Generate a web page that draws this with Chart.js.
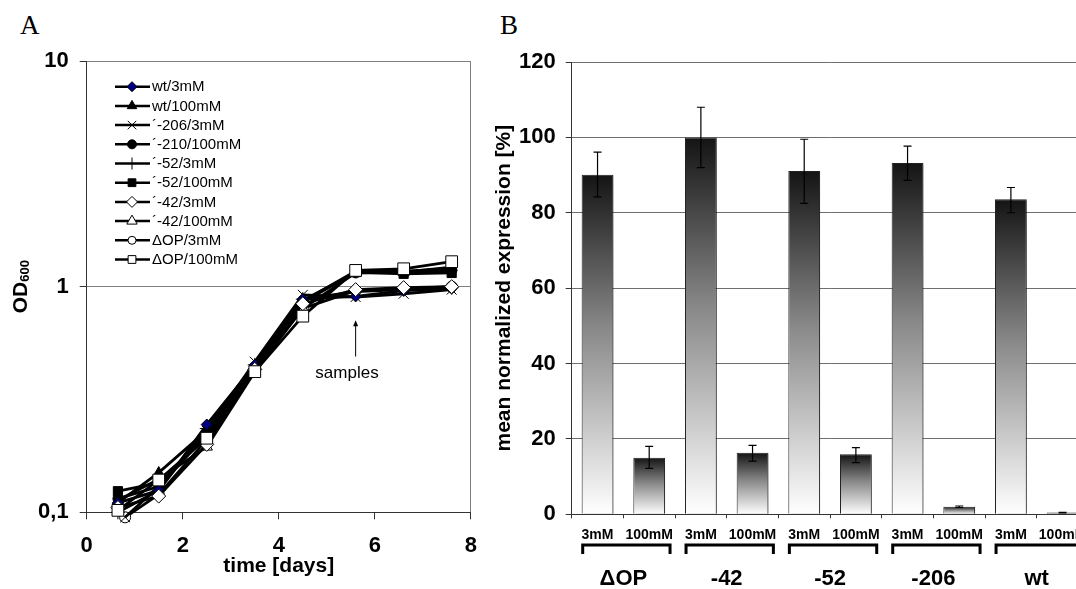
<!DOCTYPE html>
<html>
<head>
<meta charset="utf-8">
<script src="https://cdn.jsdelivr.net/npm/chart.js@4.4.1/dist/chart.umd.min.js"></script>
<style>
  html, body { margin: 0; padding: 0; background: #fff; overflow: hidden; width: 1076px; height: 589px; }
  #wrap { position: relative; width: 1076px; height: 589px; overflow: hidden; }
  canvas { position: absolute; top: 0; }
  #cA { left: 0; }
  #cB { left: 480px; }
  .panel { position: absolute; font-family: "Liberation Serif", "Times New Roman", serif; font-size: 27px; color: #000; }
</style>
</head>
<body>
<div id="wrap">
  <div class="panel" style="left:20px; top:10px;">A</div>
  <div class="panel" style="left:500px; top:10px;">B</div>
  <canvas id="cA" width="490" height="589"></canvas>
  <canvas id="cB" width="620" height="589"></canvas>
</div>
<script>
// ---------- DADOS: painel A (crescimento, OD600) ----------
const days = [0.65, 1.5, 2.5, 3.5, 4.5, 5.6, 6.6, 7.6];
const daysLate = [0.8, 1.5, 2.5, 3.5, 4.5, 5.6, 6.6, 7.6];

const seriesNames = ["wt/3mM", "wt/100mM", "´-206/3mM", "´-210/100mM", "´-52/3mM",
  "´-52/100mM", "´-42/3mM", "´-42/100mM", "ΔOP/3mM", "ΔOP/100mM"];

const wt3 = [0.11, 0.125, 0.245, 0.45, 0.88, 0.905, 0.96, 0.98];
const wt100 = [0.11, 0.15, 0.23, 0.44, 0.86, 1.17, 1.17, 1.2];
const m206_3 = [0.095, 0.13, 0.23, 0.465, 0.92, 0.9, 0.93, 0.97];
const m210_100 = [0.115, 0.13, 0.22, 0.44, 0.87, 1.15, 1.15, 1.18];
const m52_3 = [0.1, 0.125, 0.235, 0.45, 0.88, 0.95, 0.97, 0.99];
const m52_100 = [0.124, 0.135, 0.22, 0.43, 0.85, 1.16, 1.14, 1.15];
const m42_3 = [0.105, 0.118, 0.2, 0.43, 0.84, 0.97, 0.99, 1.0];
const m42_100 = [0.113, 0.14, 0.195, 0.42, 0.8, 1.15, 1.16, 1.22];
const dop3 = [0.095, 0.12, 0.21, 0.43, 0.8, 0.96, 0.98, 1.0];
const dop100 = [0.102, 0.139, 0.213, 0.42, 0.74, 1.18, 1.2, 1.29];

const seriesValues = [wt3, wt100, m206_3, m210_100, m52_3, m52_100, m42_3, m42_100, dop3, dop100];
const seriesDays = [days, days, daysLate, days, days, days, days, days, daysLate, days];

const xTicksA = [0, 2, 4, 6, 8];
const yTicksA = [0.1, 1, 10];
const yTickLabelsA = ["0,1", "1", "10"];

// seta "samples"
const sampleDay = 5.6;
const sampleArrow = [0.49, 0.71];
const sampleText = { x: 5.42, y: 0.415, text: "samples" };

// ---------- DADOS: painel B (expressão) ----------
const categories = ["3mM", "100mM", "3mM", "100mM", "3mM", "100mM", "3mM", "100mM", "3mM", "100mM"];
const groups = ["ΔOP", "-42", "-52", "-206", "wt"];
const expression = [90.1, 15.0, 100, 16.3, 91.1, 15.9, 93.2, 2.0, 83.6, 0.45];
const errHigh = [96.1, 18.0, 108, 18.3, 99.5, 17.7, 97.7, 2.2, 86.7, 0.5];
const errLow = [84.2, 12.2, 92, 14.1, 82.5, 13.7, 88.6, 1.8, 80.0, 0.4];

// ---------- ESTILOS ----------
const FONT = '"Liberation Sans", Arial, Helvetica, sans-serif';
Chart.defaults.font.family = FONT;
Chart.defaults.color = "#000";

// estilo de marcador: [pointStyle, preenchimento, raio no gráfico, raio na legenda, ordem]
const markers = [
  ["rectRot", "#000080", 5.5, 5, 0],
  ["triangle", "#000", 6, 5.5, 0],
  ["crossRot", "#000", 7, 6, 0],
  ["circle", "#000", 5, 4.5, 0],
  ["cross", "#000", 7, 6, 0],
  ["rect", "#000", 6.5, 5.5, 0],
  ["rectRot", "#fff", 7, 5.5, -1],
  ["triangle", "#fff", 6.5, 6, 0],
  ["circle", "#fff", 5.5, 4, 0],
  ["rect", "#fff", 8.3, 5.5, -2]
];

function marcador(ctx, style, fill, r, x, y) {
  ctx.save();
  ctx.fillStyle = fill;
  ctx.strokeStyle = "#000";
  ctx.lineWidth = 1;
  if (Chart.helpers && Chart.helpers.drawPoint) {
    Chart.helpers.drawPoint(ctx, { pointStyle: style, radius: r, rotation: 0, borderWidth: 1 }, x, y);
  } else {
    ctx.fillRect(x - r * 0.7, y - r * 0.7, r * 1.4, r * 1.4);
    ctx.strokeRect(x - r * 0.7, y - r * 0.7, r * 1.4, r * 1.4);
  }
  ctx.restore();
}

// ---------- PLUGINS painel A ----------
const legendaA = {
  id: "legendaA",
  afterDraw(chart) {
    const ctx = chart.ctx;
    ctx.save();
    ctx.font = "15px " + FONT;
    ctx.textBaseline = "middle";
    ctx.textAlign = "left";
    seriesNames.forEach((nome, i) => {
      const y = 86.7 + i * 19.2;
      ctx.strokeStyle = "#000";
      ctx.lineWidth = 2.5;
      ctx.beginPath();
      ctx.moveTo(115, y);
      ctx.lineTo(150, y);
      ctx.stroke();
      const m = markers[i];
      marcador(ctx, m[0], m[1], m[3], 132, y);
      ctx.fillStyle = "#000";
      ctx.fillText(nome, 152, y + 0.5);
    });
    ctx.restore();
  }
};

const extrasA = {
  id: "extrasA",
  afterDraw(chart) {
    const ctx = chart.ctx;
    const xs = chart.scales.x, ys = chart.scales.y;
    ctx.save();
    // título do eixo y: OD600
    ctx.translate(21, ys.getPixelForValue(1));
    ctx.rotate(-Math.PI / 2);
    ctx.fillStyle = "#000";
    ctx.textBaseline = "middle";
    ctx.textAlign = "left";
    ctx.font = "bold 21px " + FONT;
    const w1 = ctx.measureText("OD").width;
    ctx.font = "bold 13px " + FONT;
    const w2 = ctx.measureText("600").width;
    const x0 = -(w1 + w2) / 2;
    ctx.font = "bold 21px " + FONT;
    ctx.fillText("OD", x0, 0);
    ctx.font = "bold 13px " + FONT;
    ctx.fillText("600", x0 + w1, 4);
    ctx.restore();

    // seta e texto "samples"
    ctx.save();
    const ax = xs.getPixelForValue(sampleDay);
    const y1 = ys.getPixelForValue(sampleArrow[0]);
    const y2 = ys.getPixelForValue(sampleArrow[1]);
    ctx.strokeStyle = "#000";
    ctx.fillStyle = "#000";
    ctx.lineWidth = 1;
    ctx.beginPath();
    ctx.moveTo(ax, y1);
    ctx.lineTo(ax, y2 + 4);
    ctx.stroke();
    ctx.beginPath();
    ctx.moveTo(ax, y2);
    ctx.lineTo(ax - 2.5, y2 + 6);
    ctx.lineTo(ax + 2.5, y2 + 6);
    ctx.closePath();
    ctx.fill();
    ctx.font = "17px " + FONT;
    ctx.textAlign = "center";
    ctx.textBaseline = "middle";
    ctx.fillText(sampleText.text, xs.getPixelForValue(sampleText.x), ys.getPixelForValue(sampleText.y));
    ctx.restore();
  }
};

// ---------- GRÁFICO A ----------
const datasetsA = seriesNames.map((nome, i) => {
  const m = markers[i];
  return {
    label: nome,
    data: seriesValues[i].map((v, k) => ({ x: seriesDays[i][k], y: v })),
    borderColor: "#000",
    borderWidth: 2.8,
    tension: 0,
    fill: false,
    clip: false,
    order: m[4],
    pointStyle: m[0],
    pointRadius: m[2],
    pointBackgroundColor: m[1],
    pointBorderColor: "#000",
    pointBorderWidth: 1
  };
});

new Chart(document.getElementById("cA"), {
  type: "line",
  data: { datasets: datasetsA },
  options: {
    responsive: false,
    animation: false,
    devicePixelRatio: 1,
    layout: { padding: { left: 0, right: 12.3, top: 61, bottom: 0 } },
    plugins: { legend: { display: false }, tooltip: { enabled: false } },
    scales: {
      x: {
        type: "linear",
        min: 0,
        max: 8,
        afterBuildTicks: s => { s.ticks = xTicksA.map(v => ({ value: v })); },
        afterFit: s => { s.height = 76.7; },
        ticks: { font: { size: 22, weight: "bold" }, color: "#000", padding: 13 },
        grid: {
          color: c => (c.tick && c.tick.value === 8 ? "#808080" : "rgba(0,0,0,0)"),
          tickColor: "#333",
          tickLength: 7,
          lineWidth: 1
        },
        border: { color: "#333", width: 1 },
        title: {
          display: true,
          text: "time [days]",
          font: { size: 21, weight: "bold" },
          color: "#000",
          padding: { top: 0, bottom: 10 }
        }
      },
      y: {
        type: "logarithmic",
        min: 0.1,
        max: 10,
        afterBuildTicks: s => { s.ticks = yTicksA.map(v => ({ value: v })); },
        afterFit: s => { s.width = 86.7; },
        ticks: {
          font: { size: 22, weight: "bold" },
          color: "#000",
          padding: 11,
          callback: (v, i) => yTickLabelsA[i]
        },
        grid: {
          color: c => (c.tick && c.tick.value === 0.1 ? "rgba(0,0,0,0)" : "#808080"),
          tickColor: "#333",
          tickLength: 7,
          lineWidth: 1
        },
        border: { color: "#333", width: 1 }
      }
    }
  },
  plugins: [legendaA, extrasA]
});

// ---------- PLUGINS painel B ----------
const sombraB = {
  id: "sombraB",
  beforeDatasetsDraw(chart) {
    const ctx = chart.ctx;
    ctx.save();
    ctx.shadowColor = "rgba(0,0,0,0.28)";
    ctx.shadowOffsetX = 2.5;
    ctx.shadowOffsetY = 1;
    ctx.shadowBlur = 0;
  },
  afterDatasetsDraw(chart) {
    chart.ctx.restore();
  }
};

const barrasErro = {
  id: "barrasErro",
  afterDatasetsDraw(chart) {
    const ctx = chart.ctx;
    const ys = chart.scales.y;
    const meta = chart.getDatasetMeta(0);
    ctx.save();
    ctx.strokeStyle = "#000";
    ctx.lineWidth = 1.2;
    meta.data.forEach((bar, i) => {
      const x = bar.x;
      const yh = ys.getPixelForValue(errHigh[i]);
      const yl = ys.getPixelForValue(errLow[i]);
      ctx.beginPath();
      ctx.moveTo(x, yh); ctx.lineTo(x, yl);
      ctx.moveTo(x - 4, yh); ctx.lineTo(x + 4, yh);
      ctx.moveTo(x - 4, yl); ctx.lineTo(x + 4, yl);
      ctx.stroke();
    });
    ctx.restore();
  }
};

const gruposB = {
  id: "gruposB",
  afterDraw(chart) {
    const ctx = chart.ctx;
    const xs = chart.scales.x;
    const catW = xs.getPixelForValue(1) - xs.getPixelForValue(0);
    ctx.save();
    ctx.strokeStyle = "#000";
    ctx.fillStyle = "#000";
    ctx.lineWidth = 3;
    ctx.lineCap = "butt";
    ctx.font = "bold 22px " + FONT;
    ctx.textAlign = "center";
    ctx.textBaseline = "middle";
    groups.forEach((g, k) => {
      const left = xs.getPixelForValue(2 * k) - catW / 2 + 11;
      const right = xs.getPixelForValue(2 * k + 1) + catW / 2 - 5;
      ctx.beginPath();
      ctx.moveTo(left, 554);
      ctx.lineTo(left, 545);
      ctx.lineTo(right, 545);
      ctx.lineTo(right, 554);
      ctx.stroke();
      const cx = (xs.getPixelForValue(2 * k) + xs.getPixelForValue(2 * k + 1)) / 2;
      ctx.fillText(g, cx, 579);
    });
    ctx.restore();
  }
};

function gradiente(c) {
  const chart = c.chart;
  const ys = chart.scales.y;
  if (!ys || c.raw === undefined) return "#888";
  const top = ys.getPixelForValue(c.raw);
  const base = ys.getPixelForValue(0);
  if (!isFinite(top) || !isFinite(base) || base - top < 1) return "#333";
  const g = chart.ctx.createLinearGradient(0, top, 0, base);
  g.addColorStop(0, "#141414");
  g.addColorStop(0.45, "#888888");
  g.addColorStop(1, "#ffffff");
  return g;
}

// ---------- GRÁFICO B ----------
new Chart(document.getElementById("cB"), {
  type: "bar",
  data: {
    labels: categories,
    datasets: [{
      data: expression,
      backgroundColor: gradiente,
      borderColor: "#222",
      borderWidth: 1,
      borderSkipped: "bottom",
      barPercentage: 0.615,
      categoryPercentage: 1
    }]
  },
  options: {
    responsive: false,
    animation: false,
    devicePixelRatio: 1,
    layout: { padding: { left: 0, right: 11.6, top: 62, bottom: 0 } },
    plugins: { legend: { display: false }, tooltip: { enabled: false } },
    scales: {
      x: {
        type: "category",
        offset: true,
        afterFit: s => { s.height = 74.7; },
        ticks: { font: { size: 14, weight: "bold" }, color: "#000", padding: 8.5, maxRotation: 0, autoSkip: false },
        grid: { offset: true, drawOnChartArea: false, tickColor: "#333", tickLength: 4 },
        border: { color: "#333", width: 1 }
      },
      y: {
        min: 0,
        max: 120,
        afterFit: s => { s.width = 91.7; },
        ticks: { stepSize: 20, font: { size: 22, weight: "bold" }, color: "#000", padding: 10 },
        grid: {
          color: c => (c.tick && c.tick.value === 0 ? "rgba(0,0,0,0)" : "#6e6e6e"),
          tickColor: "#333",
          tickLength: 6,
          lineWidth: 1
        },
        border: { color: "#333", width: 1 },
        title: {
          display: true,
          text: "mean normalized expression [%]",
          font: { size: 21, weight: "bold" },
          color: "#000",
          padding: { top: 12, bottom: 0 }
        }
      }
    }
  },
  plugins: [sombraB, barrasErro, gruposB]
});
</script>
</body>
</html>
